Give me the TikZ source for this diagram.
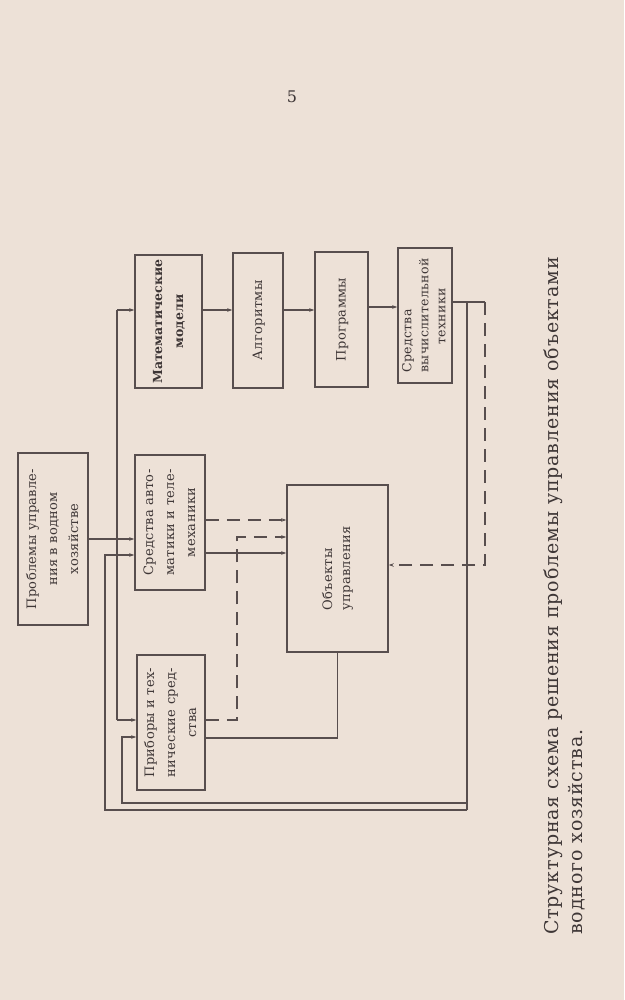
\documentclass[tikz,border=0pt]{standalone}
\usepackage{fontspec}
\usepackage{graphicx}
\setmainfont{DejaVu Serif}
\usetikzlibrary{arrows.meta}
\definecolor{paper}{RGB}{237,225,215}
\definecolor{ink}{RGB}{88,78,78}
\definecolor{txt}{RGB}{62,54,54}
\newcommand{\vtext}[2][c]{\rotatebox{90}{\begin{tabular}{@{}#1@{}}#2\end{tabular}}}
\begin{document}
\begin{tikzpicture}[x=1pt,y=-1pt,
  box/.style={draw=ink, line width=1.5pt, inner sep=0pt, rectangle, text=txt,
    font=\fontsize{13}{21}\selectfont\addfontfeature{LetterSpace=2.5}},
  conn/.style={draw=ink, line width=1.5pt},
  arr/.style={conn, -{Stealth[length=5pt,width=3.5pt]}},
  dsh/.style={dash pattern=on 13pt off 8pt},
  captext/.style={text=txt, inner sep=0pt, font=\fontsize{19}{24}\selectfont\addfontfeature{LetterSpace=4.5}}
]
\fill[paper] (0,0) rectangle (624,1000);
\useasboundingbox (0,0) rectangle (624,1000);

% page number
\node[text=txt, font=\fontsize{16}{16}\selectfont] (pg) at (292,97) {5};

% boxes
\node[box, minimum width=70pt, minimum height=172pt] (P) at (53,539)
  {\vtext{Проблемы управле-\\ния в водном\\хозяйстве}};
\node[box, minimum width=67pt, minimum height=133pt, font=\fontsize{12.5}{21}\selectfont\bfseries] (M) at (168.5,321.5)
  {\vtext{Математические\\модели}};
\node[box, minimum width=50pt, minimum height=135pt] (A) at (258,320.5)
  {\vtext{Алгоритмы}};
\node[box, minimum width=53pt, minimum height=135pt] (R) at (341.5,319.5)
  {\vtext{Программы}};
\node[box, minimum width=54pt, minimum height=135pt, font=\fontsize{12.5}{17}\selectfont\addfontfeature{LetterSpace=2.5}] (V) at (425,315.5)
  {\vtext[l]{Средства\\вычислительной\\\hspace{28pt}техники}};
\node[box, minimum width=70pt, minimum height=135pt] (S) at (170,522.5)
  {\vtext{Средства авто-\\матики и теле-\\механики}};
\node[box, minimum width=68pt, minimum height=135pt] (I) at (171,722.5)
  {\vtext{Приборы и тех-\\нические сред-\\ства}};
\node[box, minimum width=101pt, minimum height=167pt, font=\fontsize{13}{18}\selectfont\addfontfeature{LetterSpace=2.5}] (O) at (337.5,568.5)
  {\vtext[l]{Объекты\\управления}};

% trunk from problems
\coordinate (tTop) at (117,310);
\coordinate (tBot) at (117,720);
\draw[conn] (tTop) -- (tBot);
\draw[arr] (tTop) -- (tTop -| M.west);
\draw[arr] (tBot) -- (tBot -| I.west);
\draw[arr] (P.east) -- (P.east -| S.west);

% upper chain
\draw[arr] (M.east |- tTop) -- (A.west |- tTop);
\draw[arr] (A.east |- tTop) -- (R.west |- tTop);
\coordinate (rv) at (0,307);
\draw[arr] (R.east |- rv) -- (V.west |- rv);

% outputs of computing means
\coordinate (vOut) at (485,302);
\coordinate (vDn) at (467,302);
\coordinate (vBot) at (467,810);
\draw[conn] (V.east |- vOut) -- (vOut);
\draw[conn] (vDn) -- (vBot);
\coordinate (dTurn) at (485,565);
\draw[arr,dsh] (vOut) -- (dTurn) -- (dTurn -| O.east);

\coordinate (bL) at (105,810);
\coordinate (bS) at (105,555);
\draw[arr] (vBot) -- (bL) -- (bS) -- (bS -| S.west);
\coordinate (cR) at (467,803);
\coordinate (cL) at (122,803);
\coordinate (cI) at (122,737);
\draw[arr] (cR) -- (cL) -- (cI) -- (cI -| I.west);

% automation -> objects
\coordinate (s1) at (0,520);
\draw[arr,dsh] (S.east |- s1) -- (O.west |- s1);
\coordinate (s3) at (0,553);
\draw[arr] (S.east |- s3) -- (O.west |- s3);

% instruments -> objects (dashed)
\coordinate (iD) at (237,720);
\coordinate (iU) at (237,537);
\draw[arr,dsh] (I.east |- iD) -- (iD) -- (iU) -- (iU -| O.west);

% objects -> instruments
\coordinate (oD) at (337.5,738);
\draw[conn] (O.south) -- (oD) -- (oD -| I.east);

% caption
\node[captext, rotate=90, anchor=base west] (cap1) at (558,935)
  {Структурная схема решения проблемы управления объектами};
\node[captext, rotate=90, anchor=base west] (cap2) at (582,935)
  {водного хозяйства.};
\end{tikzpicture}
\end{document}
